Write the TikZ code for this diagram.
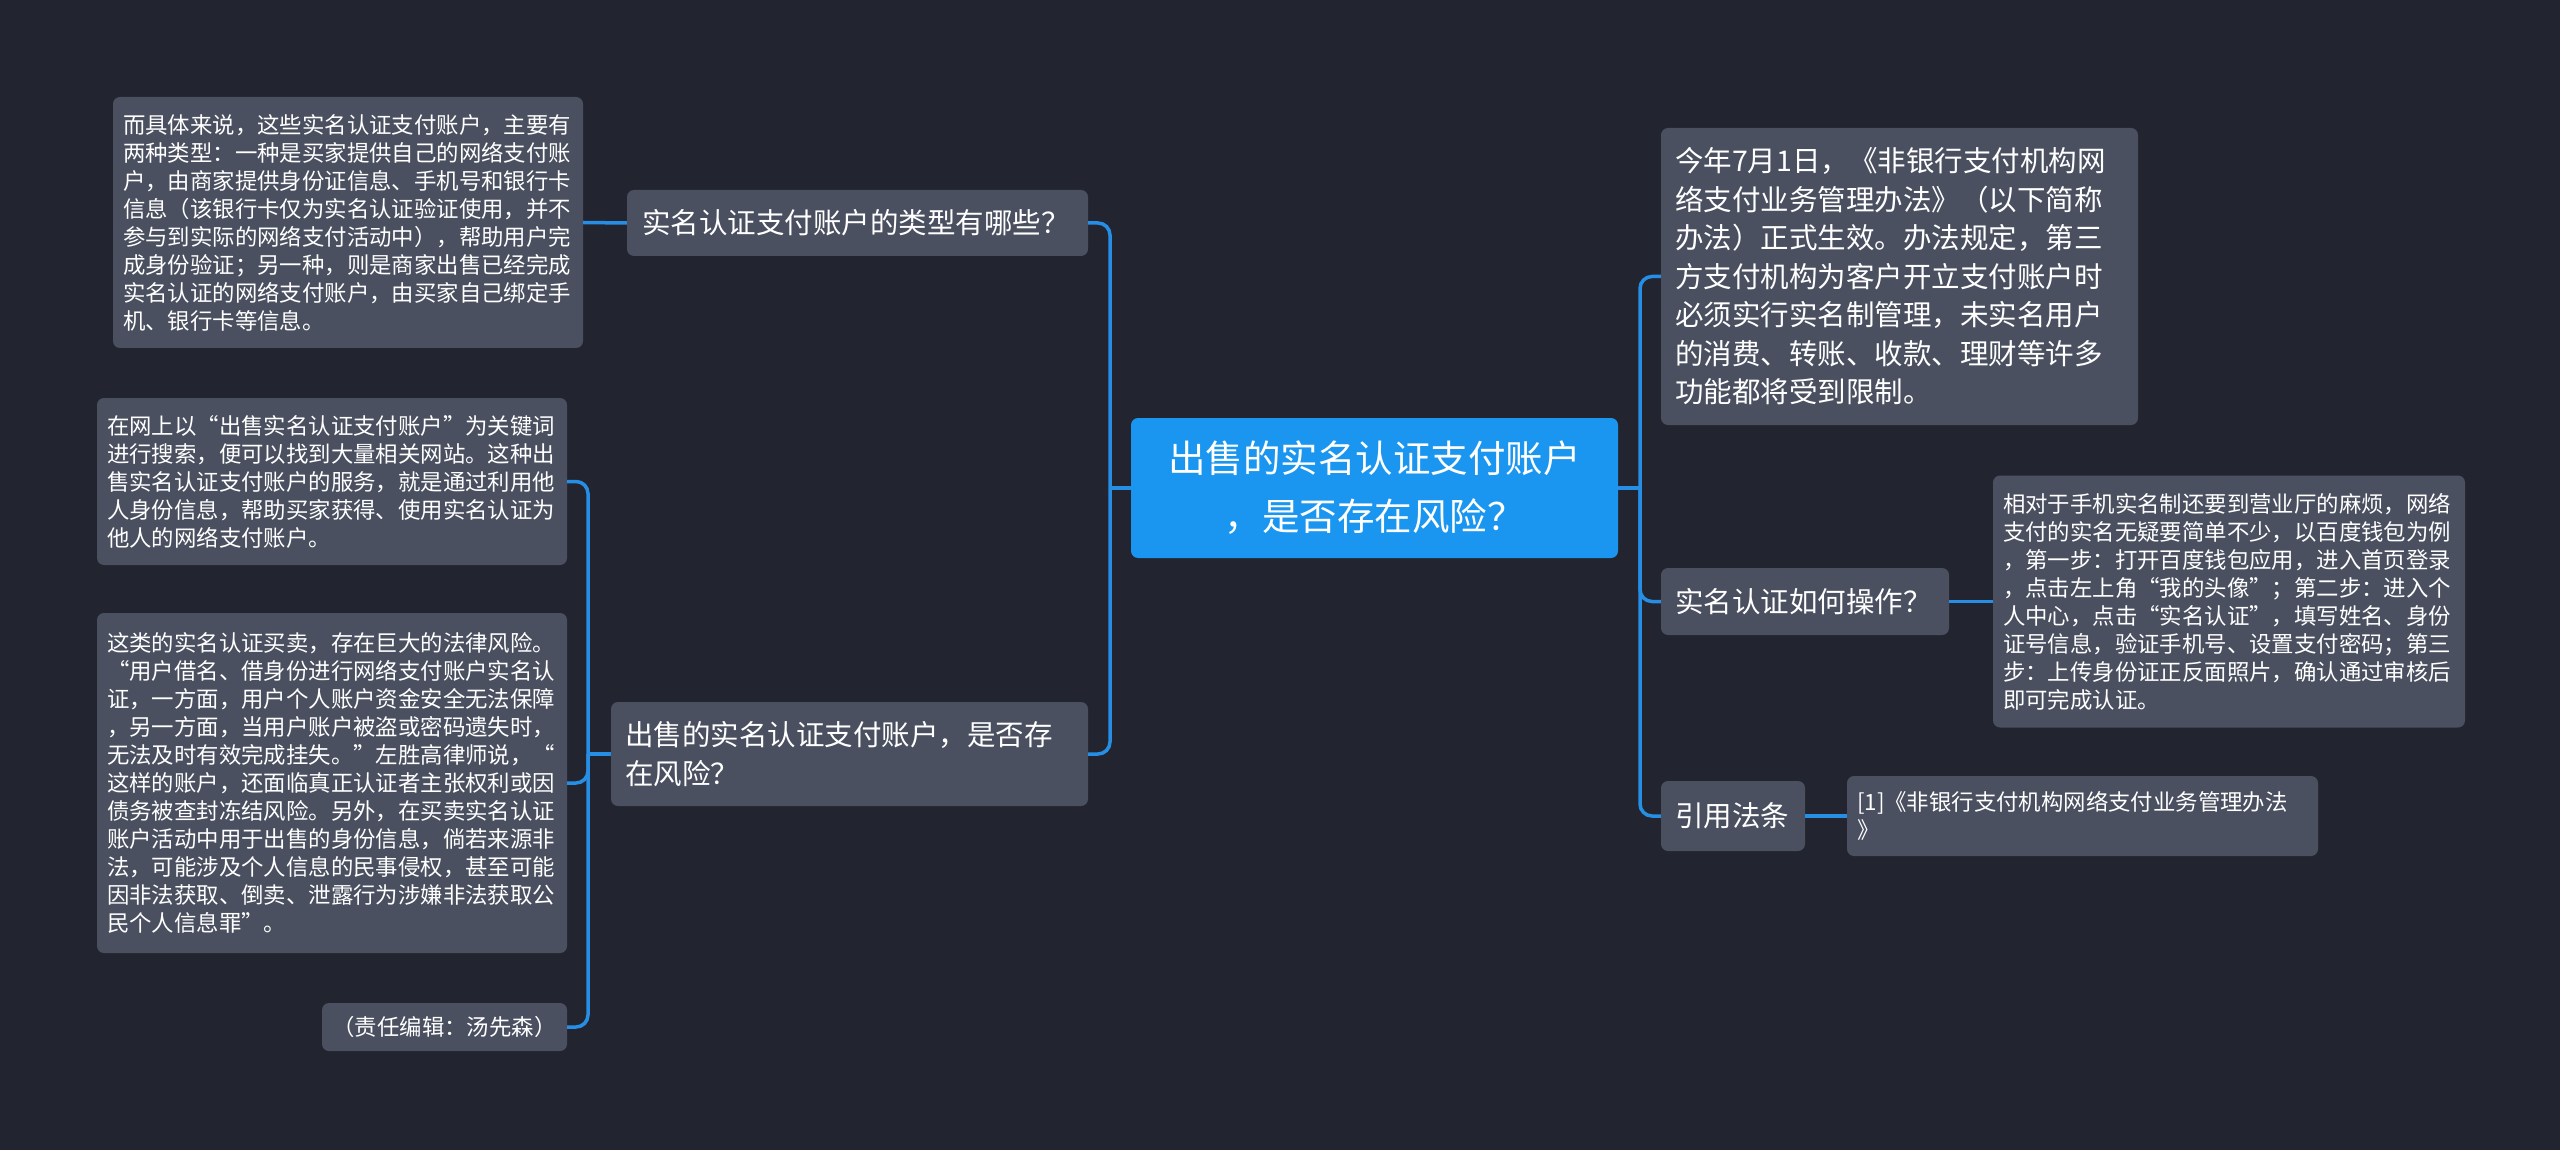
\documentclass[tikz,border=0pt]{standalone}
\usepackage{fontspec}
\setmainfont{Noto Sans CJK SC}
\definecolor{bgdark}{RGB}{34,37,47}
\definecolor{boxgray}{RGB}{74,80,96}
\definecolor{rootblue}{RGB}{26,150,240}
\definecolor{linkblue}{RGB}{38,142,228}

\begin{document}
\begin{tikzpicture}[x=1pt, y=-1pt,
	every node/.style={fill=boxgray, rounded corners=7pt, text=white, inner ysep=0pt},
	root/.style={fill=rootblue, align=center, inner xsep=0pt, font=\fontsize{37.5}{58}\selectfont},
	topic/.style={align=left, inner xsep=14pt, font=\fontsize{28.5}{38.5}\selectfont},
	leaf/.style={align=left, inner xsep=10pt, font=\fontsize{22.4}{28}\selectfont},
	link/.style={draw=linkblue, line width=3.5pt, rounded corners=12pt}]
			\useasboundingbox (0,0) rectangle (2560,1150);
			\fill[bgdark] (0,0) rectangle (2560,1150);
			
			\node[root, minimum width=487pt, minimum height=140pt] (root) at (1374.5,488){出售的实名认证支付账户\\，是否存在风险？};
			
			\node[topic, text width=431pt, inner xsep=15pt, minimum height=66pt] (kinds) at (857.5,223){实名认证支付账户的类型有哪些？};
			\node[leaf, text width=450pt, minimum height=251pt] (kindsinfo) at (348,222.5){而具体来说，这些实名认证支付账户，主要有\\两种类型：一种是买家提供自己的网络支付账\\户，由商家提供身份证信息、手机号和银行卡\\信息（该银行卡仅为实名认证验证使用，并不\\参与到实际的网络支付活动中），帮助用户完\\成身份验证；另一种，则是商家出售已经完成\\实名认证的网络支付账户，由买家自己绑定手\\机、银行卡等信息。};
			
			\node[topic, text width=449pt, minimum height=104pt] (risk) at (849.5,754){出售的实名认证支付账户，是否存\\在风险？};
			\node[leaf, text width=450pt, minimum height=167pt] (riskweb) at (332,481.5){在网上以“出售实名认证支付账户”为关键词\\进行搜索，便可以找到大量相关网站。这种出\\售实名认证支付账户的服务，就是通过利用他\\人身份信息，帮助买家获得、使用实名认证为\\他人的网络支付账户。};
			\node[leaf, text width=450pt, minimum height=340pt] (risklaw) at (332,783){这类的实名认证买卖，存在巨大的法律风险。\\“用户借名、借身份进行网络支付账户实名认\\证，一方面，用户个人账户资金安全无法保障\\，另一方面，当用户账户被盗或密码遗失时，\\无法及时有效完成挂失。”左胜高律师说，“\\这样的账户，还面临真正认证者主张权利或因\\债务被查封冻结风险。另外，在买卖实名认证\\账户活动中用于出售的身份信息，倘若来源非\\法，可能涉及个人信息的民事侵权，甚至可能\\因非法获取、倒卖、泄露行为涉嫌非法获取公\\民个人信息罪”。};
			\node[leaf, align=center, text width=225pt, minimum height=48pt] (editor) at (444.5,1027){（责任编辑：汤先森）};
			
			\node[topic, text width=449pt, minimum height=297pt] (rule) at (1899.5,276.5){今年7月1日，《非银行支付机构网\\络支付业务管理办法》（以下简称\\办法）正式生效。办法规定，第三\\方支付机构为客户开立支付账户时\\必须实行实名制管理，未实名用户\\的消费、转账、收款、理财等许多\\功能都将受到限制。};
			
			\node[topic, text width=260pt, minimum height=67pt] (howto) at (1805,601.5){实名认证如何操作？};
			\node[leaf, text width=452pt, minimum height=252pt] (howtosteps) at (2229,601.5){相对于手机实名制还要到营业厅的麻烦，网络\\支付的实名无疑要简单不少，以百度钱包为例\\，第一步：打开百度钱包应用，进入首页登录\\，点击左上角“我的头像”；第二步：进入个\\人中心，点击“实名认证”，填写姓名、身份\\证号信息，验证手机号、设置支付密码；第三\\步：上传身份证正反面照片，确认通过审核后\\即可完成认证。};
			
			\node[topic, text width=116pt, minimum height=70pt] (cite) at (1733,816){引用法条};
			\node[leaf, text width=451pt, minimum height=80pt] (citelaw) at (2082.5,816){[1]《非银行支付机构网络支付业务管理办法\\》};
			
			\coordinate (ljoint) at (1110,488);
			\coordinate (rjoint) at (1640,488);
			\coordinate (riskjoint) at (588,754);
			
			\draw[link] (root.west) -- (ljoint);
			\draw[link] (ljoint) |- (kinds.east);
			\draw[link] (ljoint) |- (risk.east);
			\draw[link] (kinds.west) -- (kindsinfo.east);
			\draw[link] (risk.west) -- (riskjoint);
			\draw[link] (riskjoint) |- (riskweb.east);
			\draw[link] (riskjoint) |- (risklaw.east);
			\draw[link] (riskjoint) |- (editor.east);
			\draw[link] (root.east) -- (rjoint);
			\draw[link] (rjoint) |- (rule.west);
			\draw[link] (rjoint) |- (howto.west);
			\draw[link] (rjoint) |- (cite.west);
			\draw[link] (howto.east) -- (howtosteps.west);
			\draw[link] (cite.east) -- (citelaw.west);
			\end{tikzpicture}
\end{document}
